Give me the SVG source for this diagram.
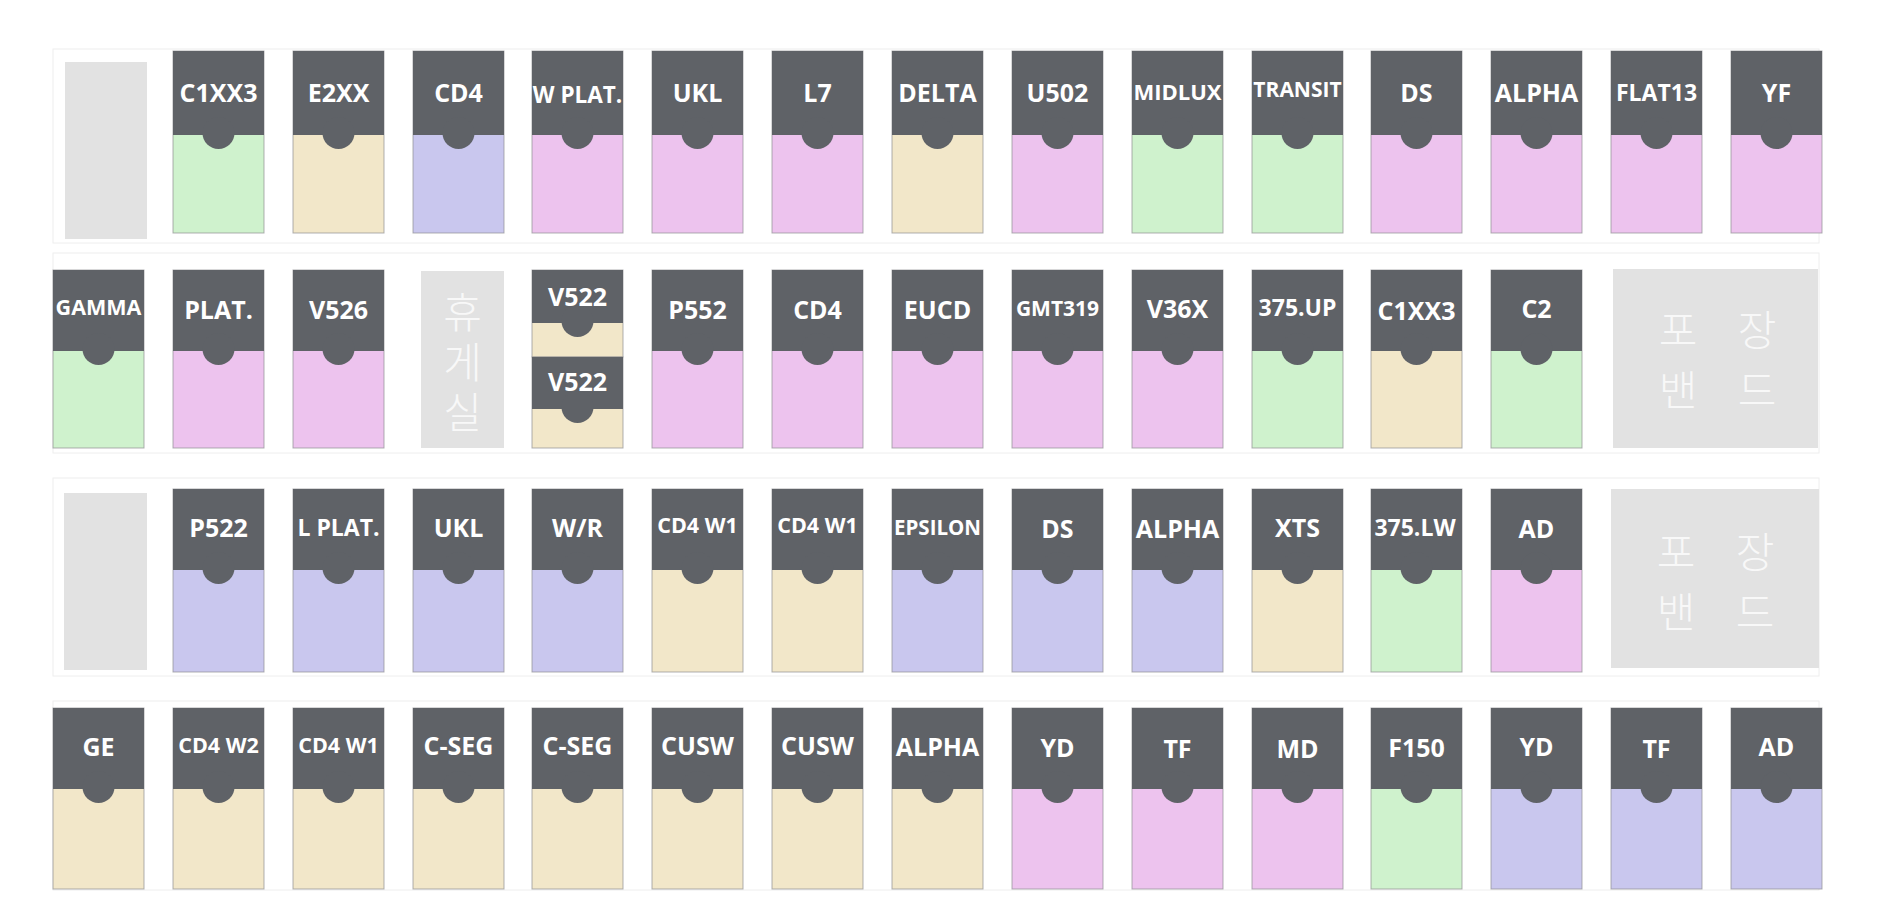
<svg xmlns="http://www.w3.org/2000/svg" width="1880" height="900" viewBox="0 0 1880 900">
<style>
.bg{fill:#ffffff}
.box{fill:none;stroke:#eeeeee;stroke-width:1}
.hd{fill:#5f6267}
.g{fill:#cff2cd}
.b{fill:#f2e7c9}
.l{fill:#c9c7ee}
.p{fill:#edc3ee}
.body{stroke:#8f9093;stroke-width:1;stroke-opacity:0.7}
.ph{fill:#e2e2e2}
.lbl{font-family:"Open Sans","Noto Sans","Liberation Sans",sans-serif;font-weight:700;fill:#ffffff;text-anchor:middle;font-size:25px}
.kr{font-family:"Noto Sans CJK KR","Noto Sans",sans-serif;font-weight:300;fill:#f8f8f8;font-size:42px;text-anchor:middle}
.vert{writing-mode:vertical-rl;letter-spacing:8px}
</style>
<rect class="bg" x="0" y="0" width="1880" height="900"/>
<g id="rows">
<rect class="box" x="53" y="49" width="1766" height="194"/>
<rect class="box" x="53" y="253" width="1766" height="200"/>
<rect class="box" x="53" y="478" width="1766" height="198"/>
<rect class="box" x="53" y="701" width="1766" height="189"/>
</g>
<g id="connectors"></g>

<!-- Row 1 -->
<g id="r1c0"><rect class="ph" x="65" y="62" width="82" height="177"/></g>
<g id="r1c1"><rect class="body g" x="173" y="51" width="91" height="182"/><rect class="hd" x="173" y="51" width="91" height="84"/><circle class="hd" cx="218.5" cy="133" r="16"/><text class="lbl" x="218.5" y="102">C1XX3</text></g>
<g id="r1c2"><rect class="body b" x="293" y="51" width="91" height="182"/><rect class="hd" x="293" y="51" width="91" height="84"/><circle class="hd" cx="338.5" cy="133" r="16"/><text class="lbl" x="338.5" y="102">E2XX</text></g>
<g id="r1c3"><rect class="body l" x="413" y="51" width="91" height="182"/><rect class="hd" x="413" y="51" width="91" height="84"/><circle class="hd" cx="458.5" cy="133" r="16"/><text class="lbl" x="458.5" y="102">CD4</text></g>
<g id="r1c4"><rect class="body p" x="532" y="51" width="91" height="182"/><rect class="hd" x="532" y="51" width="91" height="84"/><circle class="hd" cx="577.5" cy="133" r="16"/><text class="lbl" x="577.5" y="103" style="font-size:22.5px">W PLAT.</text></g>
<g id="r1c5"><rect class="body p" x="652" y="51" width="91" height="182"/><rect class="hd" x="652" y="51" width="91" height="84"/><circle class="hd" cx="697.5" cy="133" r="16"/><text class="lbl" x="697.5" y="102">UKL</text></g>
<g id="r1c6"><rect class="body p" x="772" y="51" width="91" height="182"/><rect class="hd" x="772" y="51" width="91" height="84"/><circle class="hd" cx="817.5" cy="133" r="16"/><text class="lbl" x="817.5" y="102">L7</text></g>
<g id="r1c7"><rect class="body b" x="892" y="51" width="91" height="182"/><rect class="hd" x="892" y="51" width="91" height="84"/><circle class="hd" cx="937.5" cy="133" r="16"/><text class="lbl" x="937.5" y="102">DELTA</text></g>
<g id="r1c8"><rect class="body p" x="1012" y="51" width="91" height="182"/><rect class="hd" x="1012" y="51" width="91" height="84"/><circle class="hd" cx="1057.5" cy="133" r="16"/><text class="lbl" x="1057.5" y="102">U502</text></g>
<g id="r1c9"><rect class="body g" x="1132" y="51" width="91" height="182"/><rect class="hd" x="1132" y="51" width="91" height="84"/><circle class="hd" cx="1177.5" cy="133" r="16"/><text class="lbl" x="1177.5" y="100" style="font-size:22px">MIDLUX</text></g>
<g id="r1c10"><rect class="body g" x="1252" y="51" width="91" height="182"/><rect class="hd" x="1252" y="51" width="91" height="84"/><circle class="hd" cx="1297.5" cy="133" r="16"/><text class="lbl" x="1297.5" y="97" style="font-size:21px">TRANSIT</text></g>
<g id="r1c11"><rect class="body p" x="1371" y="51" width="91" height="182"/><rect class="hd" x="1371" y="51" width="91" height="84"/><circle class="hd" cx="1416.5" cy="133" r="16"/><text class="lbl" x="1416.5" y="102">DS</text></g>
<g id="r1c12"><rect class="body p" x="1491" y="51" width="91" height="182"/><rect class="hd" x="1491" y="51" width="91" height="84"/><circle class="hd" cx="1536.5" cy="133" r="16"/><text class="lbl" x="1536.5" y="102">ALPHA</text></g>
<g id="r1c13"><rect class="body p" x="1611" y="51" width="91" height="182"/><rect class="hd" x="1611" y="51" width="91" height="84"/><circle class="hd" cx="1656.5" cy="133" r="16"/><text class="lbl" x="1656.5" y="101" style="font-size:23px">FLAT13</text></g>
<g id="r1c14"><rect class="body p" x="1731" y="51" width="91" height="182"/><rect class="hd" x="1731" y="51" width="91" height="84"/><circle class="hd" cx="1776.5" cy="133" r="16"/><text class="lbl" x="1776.5" y="102">YF</text></g>

<!-- Row 2 -->
<g id="r2c0"><rect class="body g" x="53" y="270" width="91" height="178"/><rect class="hd" x="53" y="270" width="91" height="81"/><circle class="hd" cx="98.5" cy="349" r="16"/><text class="lbl" x="98.5" y="315" style="font-size:21.5px">GAMMA</text></g>
<g id="r2c1"><rect class="body p" x="173" y="270" width="91" height="178"/><rect class="hd" x="173" y="270" width="91" height="81"/><circle class="hd" cx="218.5" cy="349" r="16"/><text class="lbl" x="218.5" y="319">PLAT.</text></g>
<g id="r2c2"><rect class="body p" x="293" y="270" width="91" height="178"/><rect class="hd" x="293" y="270" width="91" height="81"/><circle class="hd" cx="338.5" cy="349" r="16"/><text class="lbl" x="338.5" y="319">V526</text></g>
<g id="r2c3"><rect class="ph" x="421" y="271" width="83" height="177"/><text class="kr vert" x="462.5" y="366">휴게실</text></g>
<g id="r2c4"><rect class="body b" x="532" y="270" width="91" height="87"/><rect class="body b" x="532" y="357" width="91" height="91"/><rect class="hd" x="532" y="270" width="91" height="53"/><circle class="hd" cx="577.5" cy="321" r="16"/><text class="lbl" x="577.5" y="306">V522</text><rect class="hd" x="532" y="357" width="91" height="52"/><circle class="hd" cx="577.5" cy="407" r="16"/><text class="lbl" x="577.5" y="391">V522</text></g>
<g id="r2c5"><rect class="body p" x="652" y="270" width="91" height="178"/><rect class="hd" x="652" y="270" width="91" height="81"/><circle class="hd" cx="697.5" cy="349" r="16"/><text class="lbl" x="697.5" y="319">P552</text></g>
<g id="r2c6"><rect class="body p" x="772" y="270" width="91" height="178"/><rect class="hd" x="772" y="270" width="91" height="81"/><circle class="hd" cx="817.5" cy="349" r="16"/><text class="lbl" x="817.5" y="319">CD4</text></g>
<g id="r2c7"><rect class="body p" x="892" y="270" width="91" height="178"/><rect class="hd" x="892" y="270" width="91" height="81"/><circle class="hd" cx="937.5" cy="349" r="16"/><text class="lbl" x="937.5" y="319">EUCD</text></g>
<g id="r2c8"><rect class="body p" x="1012" y="270" width="91" height="178"/><rect class="hd" x="1012" y="270" width="91" height="81"/><circle class="hd" cx="1057.5" cy="349" r="16"/><text class="lbl" x="1057.5" y="316" style="font-size:21px">GMT319</text></g>
<g id="r2c9"><rect class="body p" x="1132" y="270" width="91" height="178"/><rect class="hd" x="1132" y="270" width="91" height="81"/><circle class="hd" cx="1177.5" cy="349" r="16"/><text class="lbl" x="1177.5" y="318">V36X</text></g>
<g id="r2c10"><rect class="body g" x="1252" y="270" width="91" height="178"/><rect class="hd" x="1252" y="270" width="91" height="81"/><circle class="hd" cx="1297.5" cy="349" r="16"/><text class="lbl" x="1297.5" y="316" style="font-size:23px">375.UP</text></g>
<g id="r2c11"><rect class="body b" x="1371" y="270" width="91" height="178"/><rect class="hd" x="1371" y="270" width="91" height="81"/><circle class="hd" cx="1416.5" cy="349" r="16"/><text class="lbl" x="1416.5" y="320">C1XX3</text></g>
<g id="r2c12"><rect class="body g" x="1491" y="270" width="91" height="178"/><rect class="hd" x="1491" y="270" width="91" height="81"/><circle class="hd" cx="1536.5" cy="349" r="16"/><text class="lbl" x="1536.5" y="318">C2</text></g>
<g id="r2c13"><rect class="ph" x="1613" y="269" width="205" height="179"/><text class="kr"><tspan x="1678 1757" y="346">포장</tspan><tspan x="1678 1757" y="406">밴드</tspan></text></g>

<!-- Row 3 -->
<g id="r3c0"><rect class="ph" x="64" y="493" width="83" height="177"/></g>
<g id="r3c1"><rect class="body l" x="173" y="489" width="91" height="183"/><rect class="hd" x="173" y="489" width="91" height="81"/><circle class="hd" cx="218.5" cy="568" r="16"/><text class="lbl" x="218.5" y="537">P522</text></g>
<g id="r3c2"><rect class="body l" x="293" y="489" width="91" height="183"/><rect class="hd" x="293" y="489" width="91" height="81"/><circle class="hd" cx="338.5" cy="568" r="16"/><text class="lbl" x="338.5" y="536" style="font-size:23px">L PLAT.</text></g>
<g id="r3c3"><rect class="body l" x="413" y="489" width="91" height="183"/><rect class="hd" x="413" y="489" width="91" height="81"/><circle class="hd" cx="458.5" cy="568" r="16"/><text class="lbl" x="458.5" y="537">UKL</text></g>
<g id="r3c4"><rect class="body l" x="532" y="489" width="91" height="183"/><rect class="hd" x="532" y="489" width="91" height="81"/><circle class="hd" cx="577.5" cy="568" r="16"/><text class="lbl" x="577.5" y="537">W/R</text></g>
<g id="r3c5"><rect class="body b" x="652" y="489" width="91" height="183"/><rect class="hd" x="652" y="489" width="91" height="81"/><circle class="hd" cx="697.5" cy="568" r="16"/><text class="lbl" x="697.5" y="533" style="font-size:21.5px">CD4 W1</text></g>
<g id="r3c6"><rect class="body b" x="772" y="489" width="91" height="183"/><rect class="hd" x="772" y="489" width="91" height="81"/><circle class="hd" cx="817.5" cy="568" r="16"/><text class="lbl" x="817.5" y="533" style="font-size:21.5px">CD4 W1</text></g>
<g id="r3c7"><rect class="body l" x="892" y="489" width="91" height="183"/><rect class="hd" x="892" y="489" width="91" height="81"/><circle class="hd" cx="937.5" cy="568" r="16"/><text class="lbl" x="937.5" y="535" style="font-size:20.5px">EPSILON</text></g>
<g id="r3c8"><rect class="body l" x="1012" y="489" width="91" height="183"/><rect class="hd" x="1012" y="489" width="91" height="81"/><circle class="hd" cx="1057.5" cy="568" r="16"/><text class="lbl" x="1057.5" y="538">DS</text></g>
<g id="r3c9"><rect class="body l" x="1132" y="489" width="91" height="183"/><rect class="hd" x="1132" y="489" width="91" height="81"/><circle class="hd" cx="1177.5" cy="568" r="16"/><text class="lbl" x="1177.5" y="538">ALPHA</text></g>
<g id="r3c10"><rect class="body b" x="1252" y="489" width="91" height="183"/><rect class="hd" x="1252" y="489" width="91" height="81"/><circle class="hd" cx="1297.5" cy="568" r="16"/><text class="lbl" x="1297.5" y="537">XTS</text></g>
<g id="r3c11"><rect class="body g" x="1371" y="489" width="91" height="183"/><rect class="hd" x="1371" y="489" width="91" height="81"/><circle class="hd" cx="1416.5" cy="568" r="16"/><text class="lbl" x="1415" y="536" style="font-size:23px">375.LW</text></g>
<g id="r3c12"><rect class="body p" x="1491" y="489" width="91" height="183"/><rect class="hd" x="1491" y="489" width="91" height="81"/><circle class="hd" cx="1536.5" cy="568" r="16"/><text class="lbl" x="1536.5" y="538">AD</text></g>
<g id="r3c13"><rect class="ph" x="1611" y="489" width="208" height="179"/><text class="kr"><tspan x="1676 1755" y="568">포장</tspan><tspan x="1676 1755" y="628">밴드</tspan></text></g>

<!-- Row 4 -->
<g id="r4c0"><rect class="body b" x="53" y="708" width="91" height="181"/><rect class="hd" x="53" y="708" width="91" height="81"/><circle class="hd" cx="98.5" cy="787" r="16"/><text class="lbl" x="98.5" y="756">GE</text></g>
<g id="r4c1"><rect class="body b" x="173" y="708" width="91" height="181"/><rect class="hd" x="173" y="708" width="91" height="81"/><circle class="hd" cx="218.5" cy="787" r="16"/><text class="lbl" x="218.5" y="753" style="font-size:21.5px">CD4 W2</text></g>
<g id="r4c2"><rect class="body b" x="293" y="708" width="91" height="181"/><rect class="hd" x="293" y="708" width="91" height="81"/><circle class="hd" cx="338.5" cy="787" r="16"/><text class="lbl" x="338.5" y="753" style="font-size:21.5px">CD4 W1</text></g>
<g id="r4c3"><rect class="body b" x="413" y="708" width="91" height="181"/><rect class="hd" x="413" y="708" width="91" height="81"/><circle class="hd" cx="458.5" cy="787" r="16"/><text class="lbl" x="458.5" y="755">C-SEG</text></g>
<g id="r4c4"><rect class="body b" x="532" y="708" width="91" height="181"/><rect class="hd" x="532" y="708" width="91" height="81"/><circle class="hd" cx="577.5" cy="787" r="16"/><text class="lbl" x="577.5" y="755">C-SEG</text></g>
<g id="r4c5"><rect class="body b" x="652" y="708" width="91" height="181"/><rect class="hd" x="652" y="708" width="91" height="81"/><circle class="hd" cx="697.5" cy="787" r="16"/><text class="lbl" x="697.5" y="755">CUSW</text></g>
<g id="r4c6"><rect class="body b" x="772" y="708" width="91" height="181"/><rect class="hd" x="772" y="708" width="91" height="81"/><circle class="hd" cx="817.5" cy="787" r="16"/><text class="lbl" x="817.5" y="755">CUSW</text></g>
<g id="r4c7"><rect class="body b" x="892" y="708" width="91" height="181"/><rect class="hd" x="892" y="708" width="91" height="81"/><circle class="hd" cx="937.5" cy="787" r="16"/><text class="lbl" x="937.5" y="756">ALPHA</text></g>
<g id="r4c8"><rect class="body p" x="1012" y="708" width="91" height="181"/><rect class="hd" x="1012" y="708" width="91" height="81"/><circle class="hd" cx="1057.5" cy="787" r="16"/><text class="lbl" x="1057.5" y="757">YD</text></g>
<g id="r4c9"><rect class="body p" x="1132" y="708" width="91" height="181"/><rect class="hd" x="1132" y="708" width="91" height="81"/><circle class="hd" cx="1177.5" cy="787" r="16"/><text class="lbl" x="1177.5" y="758">TF</text></g>
<g id="r4c10"><rect class="body p" x="1252" y="708" width="91" height="181"/><rect class="hd" x="1252" y="708" width="91" height="81"/><circle class="hd" cx="1297.5" cy="787" r="16"/><text class="lbl" x="1297.5" y="758">MD</text></g>
<g id="r4c11"><rect class="body g" x="1371" y="708" width="91" height="181"/><rect class="hd" x="1371" y="708" width="91" height="81"/><circle class="hd" cx="1416.5" cy="787" r="16"/><text class="lbl" x="1416.5" y="757">F150</text></g>
<g id="r4c12"><rect class="body l" x="1491" y="708" width="91" height="181"/><rect class="hd" x="1491" y="708" width="91" height="81"/><circle class="hd" cx="1536.5" cy="787" r="16"/><text class="lbl" x="1536.5" y="756">YD</text></g>
<g id="r4c13"><rect class="body l" x="1611" y="708" width="91" height="181"/><rect class="hd" x="1611" y="708" width="91" height="81"/><circle class="hd" cx="1656.5" cy="787" r="16"/><text class="lbl" x="1656.5" y="758">TF</text></g>
<g id="r4c14"><rect class="body l" x="1731" y="708" width="91" height="181"/><rect class="hd" x="1731" y="708" width="91" height="81"/><circle class="hd" cx="1776.5" cy="787" r="16"/><text class="lbl" x="1776.5" y="756">AD</text></g>
</svg>
